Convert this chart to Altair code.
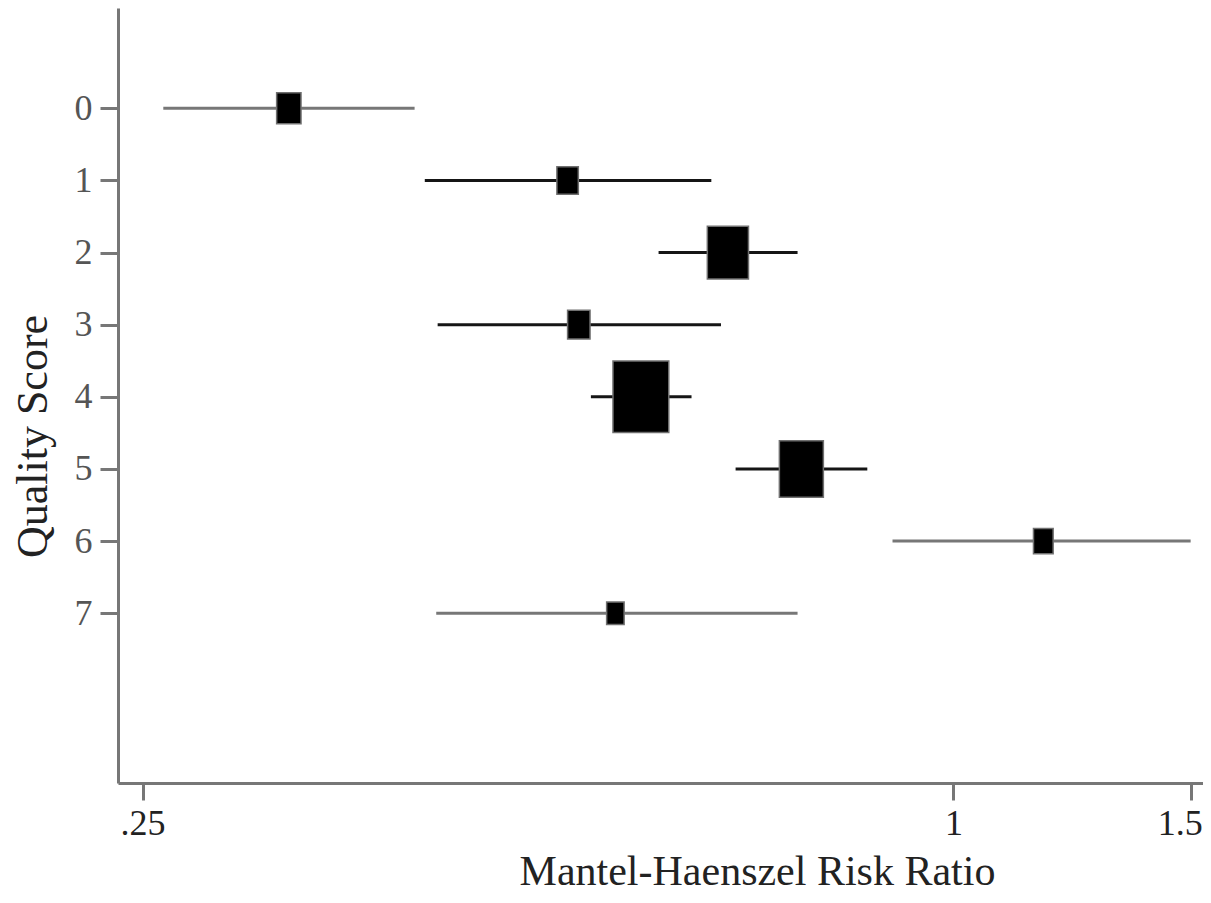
import altair as alt
import pandas as pd

# ---- data ----
scores = [0, 1, 2, 3, 4, 5, 6, 7]
risk_ratio = [0.321, 0.517, 0.680, 0.527, 0.586, 0.771, 1.166, 0.561]
ci_low = [0.259, 0.405, 0.604, 0.414, 0.538, 0.689, 0.901, 0.413]
ci_high = [0.398, 0.661, 0.766, 0.672, 0.639, 0.863, 1.500, 0.766]
weights = [6.6, 5.1, 18.8, 5.6, 34.6, 21.5, 4.3, 3.4]

x_ticks = [0.25, 1, 1.5]
x_tick_labels = [".25", "1", "1.5"]
y_ticks = scores

df = pd.DataFrame({
    "score": scores,
    "rr": risk_ratio,
    "lo": ci_low,
    "hi": ci_high,
    "w": weights,
})

label_expr = " : ".join(
    f"datum.value == {v} ? '{l}'" for v, l in zip(x_ticks, x_tick_labels)
) + " : ''"

FONT = "Liberation Serif, Times New Roman, Times, serif"

x_scale = alt.Scale(type="log", domain=[0.2397, 1.532], nice=False, zero=False)
y_scale = alt.Scale(domain=[-1.390, 9.353], reverse=True, nice=False, zero=False)

x_axis = alt.Axis(
    values=x_ticks, labelExpr=label_expr, grid=False,
    title="Mantel-Haenszel Risk Ratio",
    titleX=639, titleY=101, titleAlign="center", titleBaseline="alphabetic",
    tickSize=17, labelPadding=6, labelColor="#222222",
    labelOffset=alt.condition("datum.value == 1.5", alt.value(-11), alt.value(0)),
    labelFlush=False, labelOverlap=False,
)
y_axis = alt.Axis(
    values=y_ticks, format="d", grid=False, title="Quality Score",
    titleX=-72, titleY=428, titleAngle=270, titleAlign="center",
    titleBaseline="alphabetic", titleFontSize=44,
    tickSize=18, labelPadding=8, labelColor="#555555",
    labelFlush=False, labelOverlap=False,
)

rules = alt.Chart(df).mark_rule(strokeWidth=3).encode(
    x=alt.X("lo:Q", scale=x_scale, axis=x_axis),
    x2="hi:Q",
    y=alt.Y("score:Q", scale=y_scale, axis=y_axis),
    color=alt.condition(
        "datum.score == 0 || datum.score >= 6",
        alt.value("#777777"),
        alt.value("#151515"),
    ),
)

squares = alt.Chart(df).mark_point(
    shape="M-1,-1.28L1,-1.28L1,1.28L-1,1.28Z",
    filled=True, fill="black", fillOpacity=1,
    stroke="#707070", strokeWidth=1.5, opacity=1,
).encode(
    x=alt.X("rr:Q", scale=x_scale),
    y=alt.Y("score:Q", scale=y_scale),
    size=alt.Size("w:Q", scale=alt.Scale(domain=[0, 100], range=[0, 9000]), legend=None),
)

chart = (
    alt.layer(rules, squares)
    .properties(
        width=1085, height=775,
        autosize=alt.AutoSizeParams(type="none"),
        padding={"left": 110, "top": 0, "right": 0, "bottom": 111},
        background="white",
    )
    .configure_view(stroke="transparent")
    .configure_axis(
        domainColor="#777777", domainWidth=3,
        tickColor="#777777", tickWidth=3,
        labelFont=FONT, labelFontSize=36,
        titleFont=FONT, titleFontSize=42, titleFontWeight="normal",
        titleColor="#222222",
    )
)

chart.save("out.html", embed_options={"renderer": "svg", "actions": False})
